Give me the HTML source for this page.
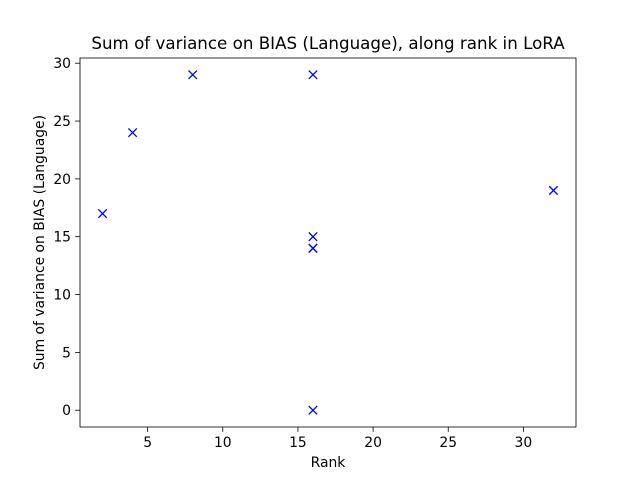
<!DOCTYPE html>
<html><head><meta charset="utf-8"><style>body{margin:0;background:#fff}svg{display:block;font-family:"DejaVu Sans","Liberation Sans",sans-serif}</style></head>
<body>
<svg id="chart" width="640" height="480"></svg>
<script>
const ranks=[2,4,8,16,16,16,16,16,32];
const variances=[17,24,29,29,15,14,14,0,19];
const xTicks=[5,10,15,20,25,30];
const yTicks=[0,5,10,15,20,25,30];
const L=80,R=576,T=58,B=427;
const xMin=0.5,xMax=33.5,yMin=-1.45,yMax=30.45;
const sx=v=>L+(v-xMin)/(xMax-xMin)*(R-L);
const sy=v=>B-(v-yMin)/(yMax-yMin)*(B-T);
const svg=document.getElementById('chart');
const NS='http://www.w3.org/2000/svg';
function mk(tag,attrs,text){const e=document.createElementNS(NS,tag);for(const k in attrs)e.setAttribute(k,attrs[k]);if(text!==undefined)e.textContent=text;svg.appendChild(e);return e;}
let e;
e=mk('rect',{x:L,y:T,width:R-L,height:B-T,fill:'none',stroke:'#000','stroke-width':0.8});


xTicks.forEach(t=>{const x=sx(t);
e=mk('line',{x1:x,x2:x,y1:B,y2:B+4.9,stroke:'#000','stroke-width':0.8});


e=mk('text',{x:x,y:B+20,'font-size':13.9,'text-anchor':'middle'},t);

});
yTicks.forEach(t=>{const y=sy(t);
e=mk('line',{x1:L-4.9,x2:L,y1:y,y2:y,stroke:'#000','stroke-width':0.8});


e=mk('text',{x:L-9,y:y+5,'font-size':13.9,'text-anchor':'end'},t);

});
ranks.forEach((r,i)=>{const x=sx(r),y=sy(variances[i]),d=4.2;
e=mk('path',{d:`M${x-d},${y-d}L${x+d},${y+d}M${x-d},${y+d}L${x+d},${y-d}`,stroke:'#0000ff','stroke-width':1.3,fill:'none'});

});
e=mk('text',{x:(L+R)/2,y:467,'font-size':13.9,'text-anchor':'middle'},'Rank');


e=mk('text',{x:0,y:0,'font-size':13.9,'text-anchor':'middle',transform:`translate(44,${(T+B)/2}) rotate(-90)`},'Sum of variance on BIAS (Language)');


e=mk('text',{x:(L+R)/2,y:49,'font-size':16.7,'text-anchor':'middle'},'Sum of variance on BIAS (Language), along rank in LoRA');


</script>
</body></html>
